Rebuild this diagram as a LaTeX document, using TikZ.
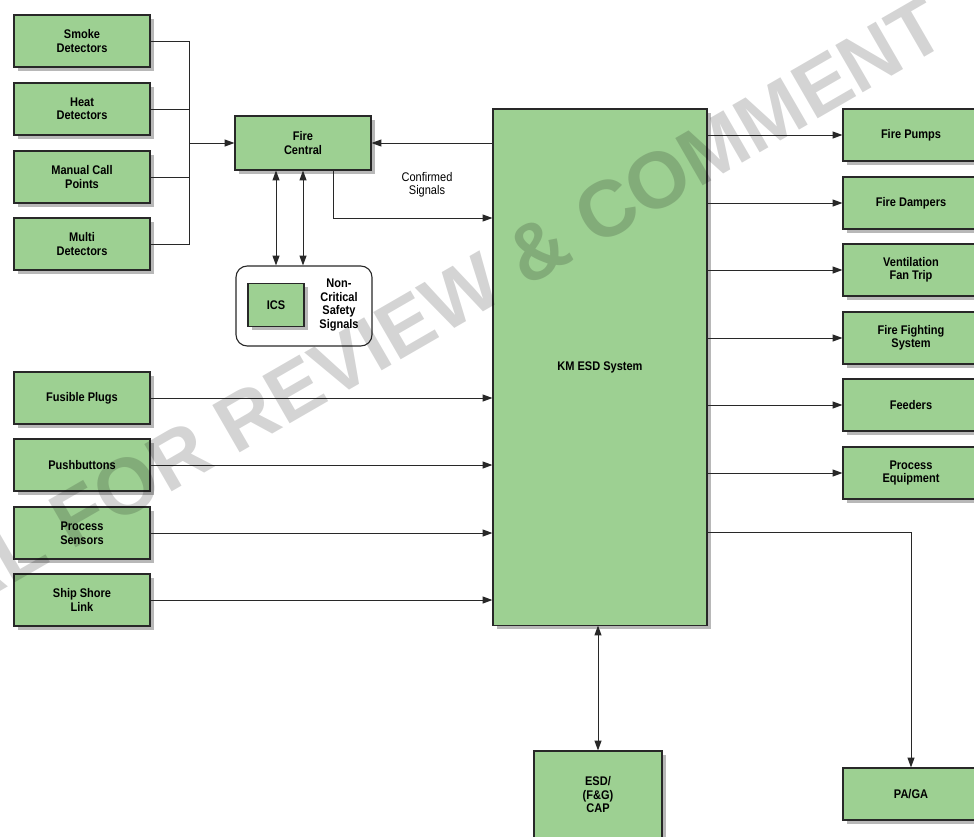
\documentclass[tikz,border=0pt]{standalone}
\usepackage{fontspec}
\setmainfont{Liberation Sans}[FakeStretch=0.88]
\newfontfamily\markfont{Liberation Sans}
\usetikzlibrary{arrows.meta,shadows}

\definecolor{boxgreen}{RGB}{157,208,146}
\definecolor{linegray}{RGB}{40,40,40}

\tikzset{
  unit/.style={draw=linegray, line width=0.8pt, fill=boxgreen, align=center,
    font=\fontsize{8.9}{9.6}\selectfont\bfseries,
    minimum width=3.4cm, minimum height=1.3cm,
    drop shadow={shadow xshift=2.8pt, shadow yshift=-2.8pt, fill=black!28, opacity=1}},
  link/.style={draw=linegray, line width=0.7pt},
  arr/.style={link, -{Triangle[length=7pt,width=5pt]}},
  biarr/.style={link, {Triangle[length=7pt,width=5pt]}-{Triangle[length=7pt,width=5pt]}},
}

\begin{document}
\begin{tikzpicture}[x=0.025cm, y=-0.025cm]
        \useasboundingbox (0,0) rectangle (974,836);
        \clip (0,0) rectangle (974,836);

        % Detector inputs
        \node[unit] (smoke) at (82,41) {Smoke\\Detectors};
        \node[unit] (heat) at (82,109) {Heat\\Detectors};
        \node[unit] (manual) at (82,177) {Manual Call\\Points};
        \node[unit] (multi) at (82,244) {Multi\\Detectors};

        % Fire central and non-critical signals
        \node[unit, minimum height=1.35cm] (fire) at (303,143) {Fire\\Central};
        \node[draw=linegray, line width=0.8pt, rounded corners=8pt, minimum width=3.4cm, minimum height=2cm] (ncss) at (304,306) {};
        \node[unit, minimum width=1.4cm, minimum height=1.075cm] (ics) at (276,305) {ICS};
        \node[align=center, font=\fontsize{8.9}{9.6}\selectfont\bfseries] (ncsstext) at (339,305) {Non-\\Critical\\Safety\\Signals};

        % Direct inputs
        \node[unit] (fusible) at (82,398) {Fusible Plugs};
        \node[unit] (push) at (82,465) {Pushbuttons};
        \node[unit] (sensors) at (82,533) {Process\\Sensors};
        \node[unit] (ship) at (82,600) {Ship Shore\\Link};

        % Main system
        \node[unit, minimum width=5.35cm, minimum height=12.9cm] (esd) at (600,367) {KM ESD System};
        \node[unit, minimum width=3.2cm, minimum height=2.2cm] (cap) at (598,795) {ESD/\\(F\&G)\\CAP};

        % Outputs
        \node[unit] (pumps) at (911,135) {Fire Pumps};
        \node[unit] (dampers) at (911,203) {Fire Dampers};
        \node[unit] (vent) at (911,270) {Ventilation\\Fan Trip};
        \node[unit] (fighting) at (911,338) {Fire Fighting\\System};
        \node[unit] (feeders) at (911,405) {Feeders};
        \node[unit] (equip) at (911,473) {Process\\Equipment};
        \node[unit] (paga) at (911,794) {PA/GA};

        % Detector bus
        \coordinate (bus) at (189,143);
        \draw[link] (smoke.east) -| (bus);
        \draw[link] (multi.east) -| (bus);
        \draw[link] (heat.east) -- (heat.east -| bus);
        \draw[link] (manual.east) -- (manual.east -| bus);
        \draw[arr] (bus) -- (fire.west);

        % Fire central links
        \coordinate (conf) at (333,218);
        \draw[arr] (fire.east -| esd.west) -- (fire.east);
        \draw[arr] (fire.south -| conf) |- (conf -| esd.west);
        \node[align=center, font=\fontsize{8.9}{9.6}\selectfont] (conftext) at (427,185) {Confirmed\\Signals};
        \draw[biarr] (fire.south -| ics) -- (ncss.north -| ics);
        \draw[biarr] (fire.south) -- (ncss.north -| fire.south);

        % Inputs to the system
        \foreach \src in {fusible, push, sensors, ship}
          \draw[arr] (\src.east) -- (\src.east -| esd.west);

        % Outputs from the system
        \foreach \dst in {pumps, dampers, vent, fighting, feeders, equip}
          \draw[arr] (\dst.west -| esd.east) -- (\dst.west);
        \coordinate (pa) at (707,532);
        \draw[arr] (pa -| esd.east) -| (paga.north);
        \draw[biarr] (esd.south -| cap.north) -- (cap.north);

        % Watermark
        \node[rotate=30, anchor=base east, text=black, opacity=0.17,
          font=\markfont\bfseries\fontsize{56.5}{56.5}\selectfont] (mark) at (955,40) {AL FOR REVIEW \& COMMENT};
\end{tikzpicture}
\end{document}
